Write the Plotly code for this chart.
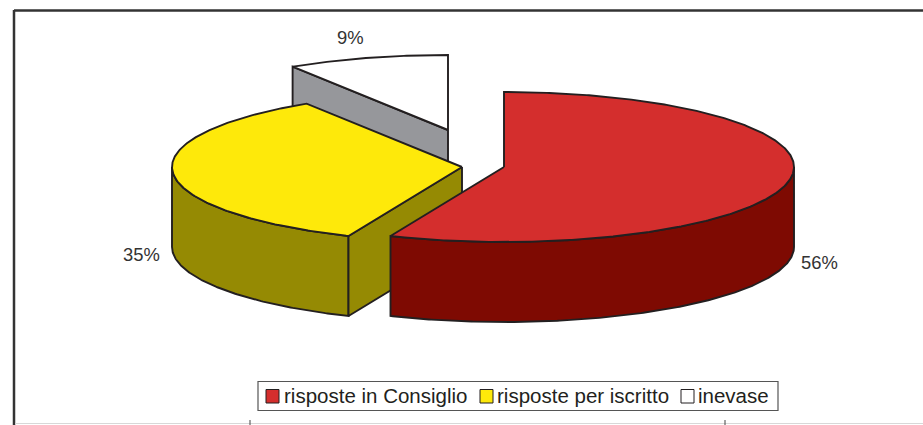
import numpy as np
import plotly.graph_objects as go

categories = ["risposte in Consiglio", "risposte per iscritto", "inevase"]
values = [56.4, 34.6, 9.0]
labels = ["56%", "35%", "9%"]
top_colors = ["#D42E2D", "#FEE90A", "#FFFFFF"]
wall_colors = ["#7E0A02", "#958A03", "#96979B"]

W, H = 923, 425
RX, RY, DEPTH = 290, 75, 80
apexes = [(504, 167), (462, 167), (448, 130)]
label_pos = [(819, 262), (141, 254), (350, 37)]
legend_swatch_x = [266, 480, 681]
legend_text_x = [282, 495, 696]
INK = "#231F20"

total = sum(values)
edges = np.cumsum([0] + values) / total * 360.0


def pt(apex, deg):
    r = np.radians(deg)
    return apex[0] + RX * np.sin(r), apex[1] - RY * np.cos(r)


def arc(apex, a, b):
    n = max(2, int(abs(b - a) * 2))
    t = np.linspace(a, b, n)
    return pt(apex, t)


def poly(fig, x, y, fill, width=1.9):
    fig.add_trace(go.Scatter(
        x=list(x), y=list(y), mode="lines", fill="toself", fillcolor=fill,
        line=dict(color=INK, width=width), hoverinfo="skip", showlegend=False))


def top(fig, i):
    ax, ay = arc(apexes[i], edges[i], edges[i + 1])
    poly(fig, [apexes[i][0], *ax, apexes[i][0]], [apexes[i][1], *ay, apexes[i][1]], top_colors[i])


def rim(fig, i):
    a, b = max(edges[i], 90), min(edges[i + 1], 270)
    ax, ay = arc(apexes[i], a, b)
    poly(fig, [*ax, *ax[::-1], ax[0]], [*ay, *(ay[::-1] + DEPTH), ay[0]], wall_colors[i])


def cut(fig, i, deg):
    px, py = pt(apexes[i], deg)
    ox, oy = apexes[i]
    poly(fig, [ox, px, px, ox, ox], [oy, py, py + DEPTH, oy + DEPTH, oy], wall_colors[i])


fig = go.Figure()
# back slice
cut(fig, 2, edges[2])
top(fig, 2)
# left slice
rim(fig, 1)
cut(fig, 1, edges[1])
top(fig, 1)
# front slice
rim(fig, 0)
top(fig, 0)

shapes = [
    dict(type="line", x0=14, x1=W, y0=10.5, y1=10.5, line=dict(color="#333333", width=2.5)),
    dict(type="line", x0=14, x1=14, y0=10, y1=H, line=dict(color="#333333", width=2.5)),
    dict(type="line", x0=15, x1=W, y0=423.5, y1=423.5, line=dict(color="#D8D8D8", width=1)),
    dict(type="line", x0=250, x1=250, y0=420, y1=H, line=dict(color="#444444", width=1)),
    dict(type="line", x0=725, x1=725, y0=420, y1=H, line=dict(color="#444444", width=1)),
    dict(type="rect", x0=258, x1=778, y0=381.5, y1=410.5, fillcolor="white",
         line=dict(color="#555555", width=1.2)),
]
annotations = []
for i, c in enumerate(categories):
    sx = legend_swatch_x[i]
    shapes.append(dict(type="rect", x0=sx, x1=sx + 13, y0=389.5, y1=403,
                       fillcolor=top_colors[i], line=dict(color=INK, width=1)))
    annotations.append(dict(x=legend_text_x[i], y=395.5, text=c, showarrow=False, xanchor="left",
                            yanchor="middle", font=dict(family="Liberation Sans", size=20.5, color="#231F20")))
    annotations.append(dict(x=label_pos[i][0], y=label_pos[i][1], text=labels[i], showarrow=False,
                            font=dict(family="Liberation Sans", size=18.4, color="#333333")))

fig.update_layout(
    width=W, height=H, autosize=False, margin=dict(l=0, r=0, t=0, b=0),
    paper_bgcolor="white", plot_bgcolor="white", showlegend=False,
    xaxis=dict(range=[0, W], visible=False, fixedrange=True),
    yaxis=dict(range=[H, 0], visible=False, fixedrange=True),
    shapes=shapes, annotations=annotations,
)
fig.write_html("out.html", config={"displayModeBar": False},
               post_script="document.body.style.margin='0';document.body.style.overflow='hidden';")
